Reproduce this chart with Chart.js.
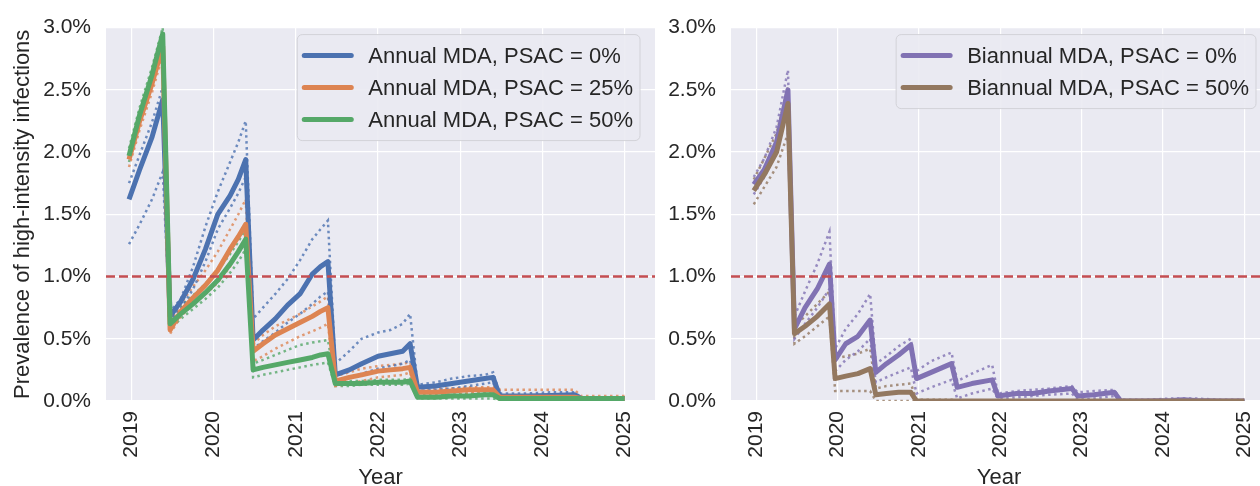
<!DOCTYPE html>
<html>
<head>
<meta charset="utf-8">
<script src="https://cdn.jsdelivr.net/npm/chart.js@4.4.1/dist/chart.umd.min.js"></script>
<style>
    html, body { margin: 0; padding: 0; background: #fff; overflow: hidden; width: 1260px; height: 486px; }
    canvas { position: absolute; top: 0; }
    #leftChart { left: 0; }
    #rightChart { left: 640px; }
</style>
</head>
<body>
<canvas id="leftChart" width="665" height="486"></canvas>
<canvas id="rightChart" width="640" height="486"></canvas>
<script>
// data, prevalence in %
const annualYears = [2018.97, 2019.10, 2019.25, 2019.38,
    2019.47, 2019.60, 2019.75, 2019.90, 2020.05, 2020.20, 2020.30, 2020.39,
    2020.48, 2020.60, 2020.75, 2020.90, 2021.05, 2021.20, 2021.30, 2021.39,
    2021.48, 2021.65, 2021.80, 2022.00, 2022.15, 2022.30, 2022.39,
    2022.48, 2022.70, 2022.90, 2023.10, 2023.30, 2023.40,
    2023.48, 2023.80, 2024.10, 2024.39,
    2024.47, 2024.70, 2025.00];

const annual0 = [1.62, 1.86, 2.12, 2.42,
    0.68, 0.80, 0.98, 1.22, 1.50, 1.65, 1.78, 1.94,
    0.49, 0.57, 0.66, 0.77, 0.86, 1.02, 1.08, 1.12,
    0.21, 0.25, 0.30, 0.36, 0.38, 0.40, 0.46,
    0.11, 0.12, 0.14, 0.16, 0.18, 0.19,
    0.04, 0.04, 0.045, 0.05,
    0.02, 0.02, 0.02];
const annual0Hi = [1.75, 1.98, 2.24, 2.52,
    0.72, 0.82, 1.08, 1.40, 1.68, 1.92, 2.08, 2.25,
    0.66, 0.75, 0.86, 0.98, 1.13, 1.30, 1.38, 1.45,
    0.30, 0.40, 0.50, 0.55, 0.57, 0.62, 0.70,
    0.13, 0.15, 0.18, 0.20, 0.21, 0.23,
    0.06, 0.06, 0.07, 0.07,
    0.03, 0.03, 0.03];
const annual0Lo = [1.26, 1.42, 1.62, 1.84,
    0.64, 0.74, 0.90, 1.12, 1.38, 1.55, 1.67, 1.80,
    0.42, 0.48, 0.55, 0.63, 0.70, 0.78, 0.84, 0.88,
    0.16, 0.19, 0.22, 0.26, 0.28, 0.30, 0.33,
    0.08, 0.09, 0.10, 0.12, 0.14, 0.15,
    0.02, 0.02, 0.03, 0.03,
    0.01, 0.01, 0.01];

const annual25 = [1.94, 2.25, 2.55, 2.85,
    0.57, 0.72, 0.83, 0.93, 1.05, 1.22, 1.32, 1.42,
    0.40, 0.46, 0.53, 0.58, 0.63, 0.68, 0.72, 0.75,
    0.16, 0.19, 0.21, 0.24, 0.25, 0.26, 0.27,
    0.07, 0.07, 0.08, 0.09, 0.09, 0.09,
    0.03, 0.03, 0.03, 0.03,
    0.02, 0.02, 0.02];
const annual25Hi = [2.00, 2.32, 2.62, 2.92,
    0.62, 0.78, 0.92, 1.05, 1.20, 1.38, 1.50, 1.62,
    0.46, 0.53, 0.60, 0.65, 0.70, 0.76, 0.80, 0.84,
    0.20, 0.23, 0.26, 0.28, 0.29, 0.30, 0.31,
    0.10, 0.10, 0.10, 0.11, 0.11, 0.11,
    0.09, 0.09, 0.09, 0.09,
    0.04, 0.04, 0.04];
const annual25Lo = [1.88, 2.18, 2.48, 2.78,
    0.54, 0.68, 0.78, 0.86, 0.95, 1.08, 1.20, 1.30,
    0.32, 0.36, 0.42, 0.47, 0.52, 0.56, 0.59, 0.62,
    0.12, 0.14, 0.16, 0.19, 0.20, 0.21, 0.23,
    0.04, 0.04, 0.05, 0.06, 0.07, 0.07,
    0.01, 0.01, 0.01, 0.01,
    0.01, 0.01, 0.01];

const annual50 = [1.97, 2.30, 2.62, 2.95,
    0.62, 0.70, 0.78, 0.87, 0.97, 1.10, 1.20, 1.30,
    0.25, 0.27, 0.29, 0.31, 0.33, 0.35, 0.37, 0.38,
    0.14, 0.14, 0.14, 0.15, 0.15, 0.15, 0.16,
    0.03, 0.03, 0.04, 0.04, 0.05, 0.05,
    0.02, 0.02, 0.02, 0.02,
    0.02, 0.02, 0.02];
const annual50Hi = [2.03, 2.36, 2.68, 3.00,
    0.66, 0.76, 0.85, 0.94, 1.05, 1.18, 1.28, 1.38,
    0.30, 0.33, 0.37, 0.41, 0.45, 0.47, 0.48, 0.49,
    0.16, 0.16, 0.16, 0.17, 0.17, 0.17, 0.18,
    0.05, 0.05, 0.05, 0.06, 0.06, 0.06,
    0.03, 0.03, 0.03, 0.03,
    0.03, 0.03, 0.03];
const annual50Lo = [1.92, 2.24, 2.56, 2.88,
    0.58, 0.66, 0.74, 0.82, 0.91, 1.03, 1.12, 1.22,
    0.19, 0.21, 0.23, 0.25, 0.27, 0.29, 0.30, 0.31,
    0.12, 0.12, 0.13, 0.13, 0.13, 0.13, 0.14,
    0.02, 0.02, 0.02, 0.02, 0.02, 0.02,
    0.01, 0.01, 0.01, 0.01,
    0.01, 0.01, 0.01];

const biannualYears = [2018.97, 2019.10, 2019.25, 2019.39,
    2019.47, 2019.60, 2019.75, 2019.90,
    2019.97, 2020.10, 2020.25, 2020.40,
    2020.47, 2020.60, 2020.75, 2020.90,
    2020.97, 2021.15, 2021.40,
    2021.47, 2021.65, 2021.90,
    2021.97, 2022.20, 2022.40, 2022.60, 2022.88,
    2022.95, 2023.15, 2023.40,
    2023.48, 2023.80, 2024.10, 2024.25, 2024.40, 2024.70, 2025.00];

const biannual0 = [1.74, 1.86, 2.08, 2.50,
    0.58, 0.75, 0.90, 1.10,
    0.33, 0.46, 0.52, 0.65,
    0.23, 0.30, 0.37, 0.45,
    0.18, 0.23, 0.30,
    0.11, 0.14, 0.17,
    0.04, 0.06, 0.06, 0.08, 0.10,
    0.04, 0.05, 0.07,
    0.00, 0.00, 0.005, 0.01, 0.005, 0.00, 0.00];
const biannual0Hi = [1.80, 1.95, 2.20, 2.66,
    0.68, 0.88, 1.10, 1.36,
    0.42, 0.58, 0.70, 0.86,
    0.30, 0.36, 0.44, 0.50,
    0.24, 0.32, 0.39,
    0.16, 0.22, 0.29,
    0.06, 0.08, 0.09, 0.10, 0.12,
    0.07, 0.08, 0.09,
    0.01, 0.01, 0.02, 0.02, 0.02, 0.01, 0.01];
const biannual0Lo = [1.66, 1.80, 2.00, 2.38,
    0.50, 0.62, 0.75, 0.90,
    0.24, 0.33, 0.40, 0.50,
    0.15, 0.19, 0.23, 0.27,
    0.06, 0.11, 0.17,
    0.02, 0.06, 0.10,
    0.02, 0.03, 0.04, 0.05, 0.06,
    0.01, 0.02, 0.04,
    0, 0, 0, 0, 0, 0, 0];

const biannual50 = [1.69, 1.82, 2.00, 2.39,
    0.54, 0.60, 0.68, 0.78,
    0.18, 0.20, 0.22, 0.26,
    0.05, 0.06, 0.07, 0.07,
    0, 0, 0,
    0, 0, 0,
    0, 0, 0, 0, 0,
    0, 0, 0,
    0, 0, 0, 0, 0, 0, 0];
const biannual50Hi = [1.78, 1.95, 2.15, 2.52,
    0.60, 0.68, 0.78, 0.88,
    0.34, 0.36, 0.38, 0.42,
    0.10, 0.12, 0.13, 0.14,
    0.01, 0.01, 0.01,
    0, 0, 0,
    0, 0, 0, 0, 0,
    0, 0, 0,
    0, 0, 0, 0, 0, 0, 0];
const biannual50Lo = [1.58, 1.72, 1.88, 2.15,
    0.46, 0.52, 0.60, 0.68,
    0.08, 0.08, 0.08, 0.08,
    0, 0, 0, 0,
    0, 0, 0,
    0, 0, 0,
    0, 0, 0, 0, 0,
    0, 0, 0,
    0, 0, 0, 0, 0, 0, 0];

const threshold = 1.0;
const xMin = 2018.69;

const FONT = '"Liberation Sans", Arial, sans-serif';
Chart.defaults.font.family = FONT;
Chart.defaults.font.size = 21;
Chart.defaults.color = '#262626';

function pts(xs, ys) {
    return xs.map((x, i) => ({ x: x, y: ys[i] }));
}

function solid(label, xs, ys, color, order) {
    return {
        label: label, inLegend: true, data: pts(xs, ys),
        borderColor: color, borderWidth: 5, pointRadius: 0,
        borderJoinStyle: 'round', tension: 0, order: order
    };
}

function dotted(xs, ys, color, order) {
    return {
        label: '', data: pts(xs, ys),
        borderColor: color, borderWidth: 2.5, borderDash: [2.5, 3.5],
        pointRadius: 0, tension: 0, order: order
    };
}

function thresholdLine(xmax) {
    return {
        label: '', data: [{ x: xMin, y: threshold }, { x: xmax, y: threshold }],
        borderColor: '#C44E52', borderWidth: 2.5, borderDash: [9, 4],
        pointRadius: 0, order: -1
    };
}

// seaborn darkgrid background
const plotBg = {
    id: 'plotBg',
    beforeDraw(chart) {
        const a = chart.chartArea, ctx = chart.ctx;
        ctx.save();
        ctx.fillStyle = '#EAEAF2';
        ctx.fillRect(a.left, a.top, a.right - a.left, a.bottom - a.top);
        ctx.restore();
    }
};

// matplotlib style legend box, upper right
const boxLegend = {
    id: 'boxLegend',
    afterDatasetsDraw(chart) {
        const ctx = chart.ctx;
        const items = chart.data.datasets.filter(d => d.inLegend);
        const order = chart.options.plugins.boxLegend.order;
        ctx.save();
        ctx.font = '22px ' + FONT;
        const textW = Math.max(...items.map(d => ctx.measureText(d.label).width));
        const rowH = 32;
        const w = 5 + 49 + 17 + textW + 7;
        const h = items.length * rowH + 10;
        const right = chart.options.plugins.boxLegend.right;
        const top = chart.chartArea.top + 7;
        const left = right - w;
        ctx.beginPath();
        ctx.roundRect(left, top, w, h, 5);
        ctx.fillStyle = 'rgba(234,234,242,0.9)';
        ctx.fill();
        ctx.strokeStyle = '#d2d2d8';
        ctx.lineWidth = 1;
        ctx.stroke();
        order.forEach((k, i) => {
            const d = items[k];
            const y = top + 5 + rowH * (i + 0.5);
            ctx.strokeStyle = d.borderColor;
            ctx.lineWidth = 5;
            ctx.lineCap = 'round';
            ctx.beginPath();
            ctx.moveTo(left + 7, y);
            ctx.lineTo(left + 54, y);
            ctx.stroke();
            ctx.fillStyle = '#262626';
            ctx.textBaseline = 'middle';
            ctx.fillText(d.label, left + 71, y + 1);
        });
        ctx.restore();
    }
};

function makeOptions(xmax, yWidth, rightPad, yTitle, legendRight, legendOrder) {
    return {
        responsive: false,
        animation: false,
        layout: { padding: { top: 24, right: rightPad, bottom: 0, left: 0 } },
        plugins: {
            legend: { display: false },
            tooltip: { enabled: false },
            boxLegend: { right: legendRight, order: legendOrder }
        },
        scales: {
            x: {
                type: 'linear', min: xMin, max: xmax,
                grid: { color: '#ffffff', lineWidth: 1.2, drawTicks: false },
                border: { display: false },
                ticks: {
                    stepSize: 1, includeBounds: false, autoSkip: false,
                    minRotation: 90, maxRotation: 90, padding: 10,
                    callback: v => String(v)
                },
                title: { display: true, text: 'Year', font: { size: 22 }, padding: { top: 0, bottom: -5 } },
                afterFit: s => { s.height = 85; }
            },
            y: {
                min: 0, max: 3,
                grid: { color: '#ffffff', lineWidth: 1.2, drawTicks: false },
                border: { display: false },
                ticks: { stepSize: 0.5, padding: 15, callback: v => v.toFixed(1) + '%' },
                title: { display: yTitle !== '', text: yTitle, font: { size: 22 }, padding: { top: 10, bottom: 0 } },
                afterFit: s => { s.width = yWidth; }
            }
        }
    };
}

const leftXMax = 2025.37;
const blue = '#4C72B0', orange = '#DD8452', green = '#55A868';
new Chart(document.getElementById('leftChart'), {
    type: 'line',
    data: {
        datasets: [
            solid('Annual MDA, PSAC = 0%', annualYears, annual0, blue, 2),
            solid('Annual MDA, PSAC = 25%', annualYears, annual25, orange, 1),
            solid('Annual MDA, PSAC = 50%', annualYears, annual50, green, 0),
            dotted(annualYears, annual0Hi, 'rgba(76,114,176,0.8)', 3),
            dotted(annualYears, annual0Lo, 'rgba(76,114,176,0.8)', 3),
            dotted(annualYears, annual25Hi, 'rgba(221,132,82,0.8)', 3),
            dotted(annualYears, annual25Lo, 'rgba(221,132,82,0.8)', 3),
            dotted(annualYears, annual50Hi, 'rgba(85,168,104,0.8)', 3),
            dotted(annualYears, annual50Lo, 'rgba(85,168,104,0.8)', 3),
            thresholdLine(leftXMax)
        ]
    },
    options: makeOptions(leftXMax, 106, 10, 'Prevalence of high-intensity infections', 640, [0, 1, 2]),
    plugins: [plotBg, boxLegend]
});

const rightXMax = 2025.28;
const purple = '#8172B3', brown = '#937860';
new Chart(document.getElementById('rightChart'), {
    type: 'line',
    data: {
        datasets: [
            solid('Biannual MDA, PSAC = 0%', biannualYears, biannual0, purple, 1),
            solid('Biannual MDA, PSAC = 50%', biannualYears, biannual50, brown, 0),
            dotted(biannualYears, biannual0Hi, 'rgba(129,114,179,0.8)', 3),
            dotted(biannualYears, biannual0Lo, 'rgba(129,114,179,0.8)', 3),
            dotted(biannualYears, biannual50Hi, 'rgba(147,120,96,0.8)', 3),
            dotted(biannualYears, biannual50Lo, 'rgba(147,120,96,0.8)', 3),
            thresholdLine(rightXMax)
        ]
    },
    options: makeOptions(rightXMax, 91, 9, '', 616, [0, 1]),
    plugins: [plotBg, boxLegend]
});
</script>
</body>
</html>
